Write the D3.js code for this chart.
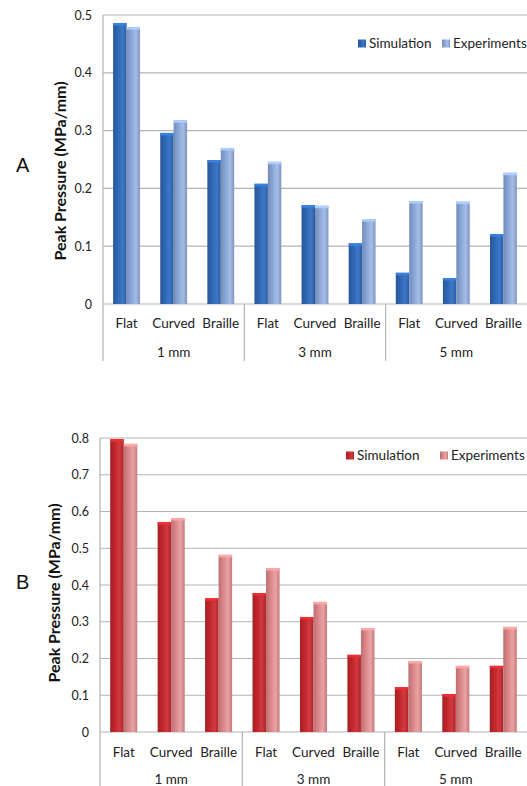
<!DOCTYPE html>
<html><head><meta charset="utf-8">
<script src="https://cdn.jsdelivr.net/npm/d3@7"></script>
<style>body{margin:0;background:#fff}svg{display:block}</style>
</head><body>
<svg id="c" width="527" height="786"></svg>
<script>
const categories = ["Flat","Curved","Braille","Flat","Curved","Braille","Flat","Curved","Braille"];
const groups = ["1 mm","3 mm","5 mm"];
const seriesNames = ["Simulation","Experiments"];
const simA = [0.486,0.296,0.249,0.208,0.171,0.105,0.054,0.045,0.121];
const expA = [0.479,0.318,0.270,0.246,0.170,0.147,0.178,0.177,0.227];
const simB = [0.797,0.571,0.364,0.378,0.313,0.210,0.122,0.103,0.180];
const expB = [0.784,0.582,0.482,0.446,0.354,0.283,0.193,0.180,0.286];
const ticksA = [0,0.1,0.2,0.3,0.4,0.5];
const ticksB = [0,0.1,0.2,0.3,0.4,0.5,0.6,0.7,0.8];

const svg = d3.select("#c");
const defs = svg.append("defs");
function grad(id, dark, mid) {
  const g = defs.append("linearGradient").attr("id", id).attr("x1","0").attr("x2","1").attr("y1","0").attr("y2","0");
  g.append("stop").attr("offset","0%").attr("stop-color", d3.color(dark).darker(0.5));
  g.append("stop").attr("offset","35%").attr("stop-color", dark);
  g.append("stop").attr("offset","70%").attr("stop-color", mid);
  g.append("stop").attr("offset","100%").attr("stop-color", d3.color(dark).darker(0.3));
}
grad("bs", "#2f67b4", "#3d78c6");
grad("be", "#8aa6d8", "#a6bde4");
grad("rs", "#c2262b", "#d13a3e");
grad("re", "#dc8688", "#e8a3a4");

const font = "Lato, 'Open Sans', sans-serif";

function drawChart(cfg) {
  const g = svg.append("g");
  const y = d3.scaleLinear().domain([0, cfg.ymax]).range([cfg.y0, cfg.y1]);
  const x = d3.scaleBand().domain(d3.range(categories.length)).range([cfg.x0, cfg.x1]).paddingInner(0.43).paddingOuter(0.215);
  const xs = d3.scaleBand().domain([0,1]).range([0, x.bandwidth()]);
  const step = x.step();

  g.selectAll(".grid").data(cfg.ticks.slice(1)).join("line")
    .attr("x1", cfg.x0).attr("x2", cfg.x1)
    .attr("y1", d => y(d)).attr("y2", d => y(d))
    .attr("stroke", "#b3b3b3").attr("stroke-width", 1.2);

  const ya = d3.axisLeft(y).tickValues(cfg.ticks).tickSize(0).tickPadding(11).tickFormat(d => d === 0 ? "0" : d3.format(".1f")(d));
  const yg = g.append("g").attr("transform", `translate(${cfg.x0},0)`).call(ya);
  yg.select(".domain").remove();
  yg.selectAll("text").attr("font-family", font).attr("font-size", 12.5).attr("fill", "#222");
  g.append("line").attr("x1", cfg.x0).attr("x2", cfg.x0).attr("y1", cfg.y1).attr("y2", cfg.axisBottom).attr("stroke", "#b3b3b3").attr("stroke-width", 1.2);
  g.append("line").attr("x1", cfg.x0).attr("x2", cfg.x1).attr("y1", cfg.y0).attr("y2", cfg.y0).attr("stroke", "#b3b3b3").attr("stroke-width", 1.2);

  g.selectAll(".sep").data([1,2]).join("line")
    .attr("x1", d => cfg.x0 + d*3*step).attr("x2", d => cfg.x0 + d*3*step)
    .attr("y1", cfg.y0).attr("y2", cfg.axisBottom)
    .attr("stroke", "#b3b3b3").attr("stroke-width", 1.2);

  const data = categories.map((c, i) => [cfg.sim[i], cfg.exp[i]]);
  const cat = g.selectAll(".cat").data(data).join("g").attr("transform", (d, i) => `translate(${x(i)},0)`);
  cat.selectAll("rect.bar").data(d => d).join("rect").attr("class","bar")
    .attr("x", (d, j) => xs(j)).attr("width", xs.bandwidth())
    .attr("y", d => y(d)).attr("height", d => y(0) - y(d))
    .attr("fill", (d, j) => j === 0 ? cfg.fillS : cfg.fillE);
  cat.selectAll("rect.cap").data(d => d).join("rect").attr("class","cap")
    .attr("x", (d, j) => xs(j)).attr("width", xs.bandwidth())
    .attr("y", d => y(d)).attr("height", 2.5)
    .attr("fill", (d, j) => d3.color(cfg.colors[j]).brighter(0.6));

  g.selectAll(".cl").data(categories).join("text")
    .attr("x", (d, i) => x(i) + x.bandwidth()/2).attr("y", cfg.catY)
    .attr("text-anchor", "middle").attr("font-family", font).attr("font-size", 13.5).attr("fill", "#222")
    .text(d => d);
  g.selectAll(".gl").data(groups).join("text")
    .attr("x", (d, i) => cfg.x0 + (i*3 + 1.5)*step).attr("y", cfg.grpY)
    .attr("text-anchor", "middle").attr("font-family", font).attr("font-size", 13.5).attr("fill", "#222")
    .text(d => d);

  g.append("text").attr("transform", `translate(${cfg.titleX},${cfg.titleY}) rotate(-90)`)
    .attr("text-anchor", "middle").attr("font-family", font).attr("font-weight", "bold").attr("font-size", 16).attr("fill", "#111")
    .text("Peak Pressure (MPa/mm)");
  g.append("text").attr("x", cfg.letterX).attr("y", cfg.letterY).attr("font-family", "Liberation Sans, Arial, sans-serif")
    .attr("font-size", 20).attr("fill", "#111").text(cfg.letter);

  const lg = g.append("g");
  seriesNames.forEach((s, j) => {
    lg.append("rect").attr("x", cfg.legX[j]).attr("y", cfg.legY - 8.5).attr("width", 8).attr("height", 8).attr("fill", j === 0 ? cfg.fillS : cfg.fillE);
    lg.append("text").attr("x", cfg.legX[j] + 11).attr("y", cfg.legY).attr("font-family", font).attr("font-size", 13.5).attr("fill", "#222").text(s);
  });
}

drawChart({ymax: 0.5, ticks: ticksA, y0: 304, y1: 15, x0: 103, x1: 527, axisBottom: 361,
  sim: simA, exp: expA, fillS: "url(#bs)", fillE: "url(#be)", colors: ["#2f67b4","#8aa6d8"],
  catY: 328, grpY: 357, titleX: 66, titleY: 171, letter: "A", letterX: 16, letterY: 172,
  legX: [358, 442], legY: 48});

drawChart({ymax: 0.8, ticks: ticksB, y0: 732, y1: 438, x0: 100, x1: 527, axisBottom: 786,
  sim: simB, exp: expB, fillS: "url(#rs)", fillE: "url(#re)", colors: ["#c2262b","#dc8688"],
  catY: 757, grpY: 784, titleX: 60, titleY: 593, letter: "B", letterX: 16, letterY: 589,
  legX: [346, 440], legY: 460});
</script>
</body></html>
